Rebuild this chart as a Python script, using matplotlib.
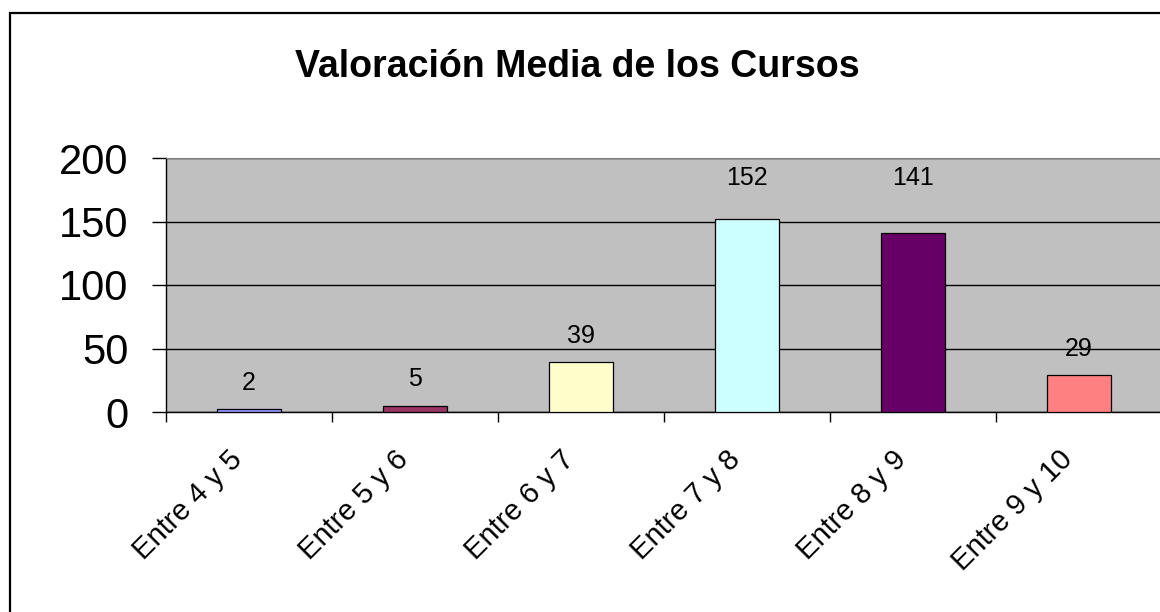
import matplotlib
matplotlib.use("Agg")
import matplotlib.pyplot as plt
from matplotlib.patches import Rectangle
from matplotlib.transforms import ScaledTranslation
import numpy as np

plt.rcParams['font.family'] = ['Liberation Sans', 'DejaVu Sans']

categorias = ['Entre 4 y 5', 'Entre 5 y 6', 'Entre 6 y 7',
              'Entre 7 y 8', 'Entre 8 y 9', 'Entre 9 y 10']
valores = [2, 5, 39, 152, 141, 29]
colores = ['#9999FF', '#993366', '#FFFFCC', '#CCFFFF', '#660066', '#FF8080']

fig = plt.figure(figsize=(11.6, 6.12), dpi=100)
fig.patch.set_facecolor('white')

# marco del grafico
fig.patches.append(Rectangle((10/1160, -0.1), 1.2, 1 - 13/612 + 0.1,
                             transform=fig.transFigure, fill=False,
                             edgecolor='black', linewidth=1.6))

ax = fig.add_axes([166/1160, 200/612, 996/1160, 254/612])
ax.set_facecolor('#C0C0C0')

x = np.arange(len(categorias))
ax.bar(x, valores, width=0.39, color=colores, edgecolor='black', linewidth=0.9, zorder=3)

# etiquetas de valor: encima de la barra, o pegadas arriba si la barra es alta
for xi, v in zip(x, valores):
    y_txt = v + 21 if v + 21 < 160 else 184
    ax.text(xi, y_txt, str(v), ha='center', va='center',
            fontsize=18, zorder=4)

ax.set_xlim(-0.5, len(categorias) - 0.5)
ax.set_ylim(0, 200)
ax.set_yticks([0, 50, 100, 150, 200])
ax.yaxis.grid(True, color='black', linewidth=1.0, zorder=1)
ax.set_axisbelow(True)

ax.tick_params(axis='y', direction='out', length=10, width=1, labelsize=30, pad=17)
ax.set_xticks(x)
ax.set_xticklabels(categorias, rotation=45, ha='right', rotation_mode='anchor',
                   fontsize=21)
ax.tick_params(axis='x', which='major', length=0, pad=24)
desplaza = ScaledTranslation(-0.21, 0.0, fig.dpi_scale_trans)
for lab in ax.get_xticklabels():
    lab.set_transform(lab.get_transform() + desplaza)
ax.set_xticks(np.arange(-0.5, len(categorias), 1.0), minor=True)
ax.tick_params(axis='x', which='minor', direction='out', length=7, width=1)

for s in ['left', 'bottom']:
    ax.spines[s].set_color('black')
    ax.spines[s].set_linewidth(1.0)
ax.spines['top'].set_color('#808080')
ax.spines['right'].set_visible(False)

fig.text(577/1160, 1 - 67/612, 'Valoración Media de los Cursos',
         ha='center', va='center', fontsize=27, fontweight='bold')

fig.savefig('out.png', dpi=100)
